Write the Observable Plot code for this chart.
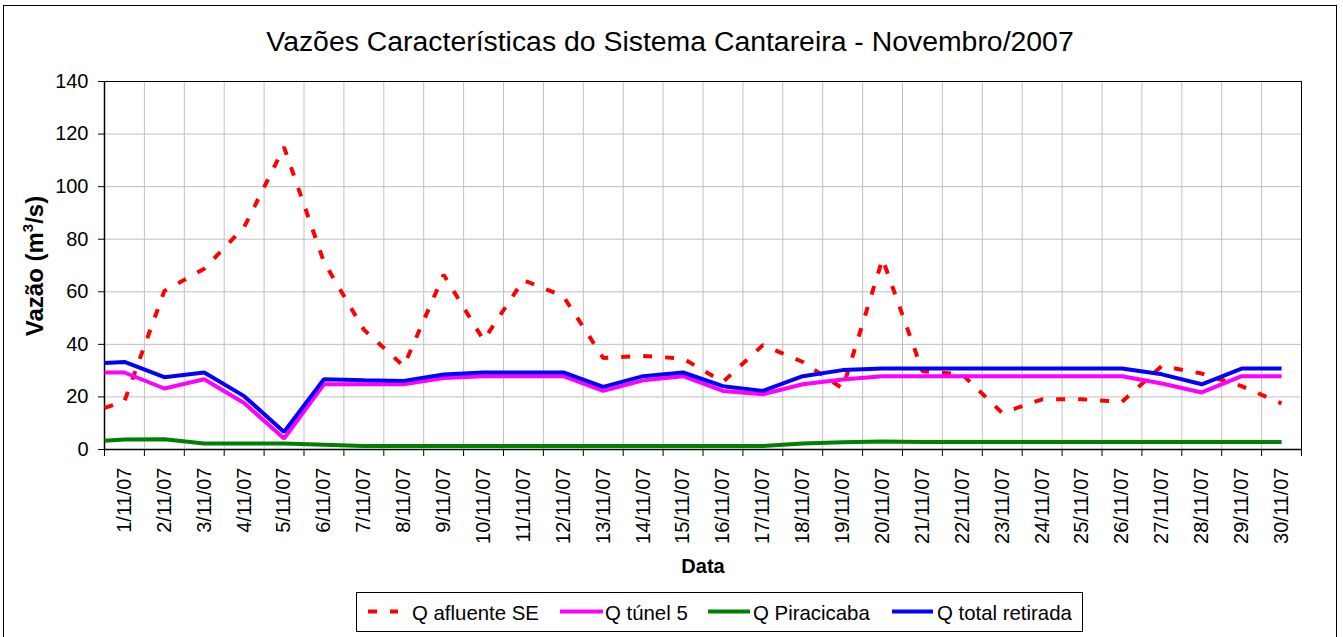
<!DOCTYPE html>
<html>
<head>
<meta charset="utf-8">
<script src="https://cdn.jsdelivr.net/npm/d3@7"></script>
<script src="https://cdn.jsdelivr.net/npm/@observablehq/plot@0.6"></script>
<style>
  html, body { margin: 0; padding: 0; background: #fff; }
  body { width: 1343px; height: 637px; overflow: hidden; position: relative; font-family: "Liberation Sans", Arial, sans-serif; }
  #border { position: absolute; left: 3px; top: 5px; width: 1334px; height: 640px; border: 1px solid #000; box-sizing: border-box; }
  #title { position: absolute; left: 0; top: 27px; width: 1340px; text-align: center; font-size: 28.4px; line-height: 28px; color: #000; white-space: nowrap; }
  #chart { position: absolute; left: 0; top: 0; }
  #legend { position: absolute; left: 356px; top: 592px; }
</style>
</head>
<body>
<div id="border"></div>
<div id="title"></div>
<div id="chart"></div>
<div id="legend"></div>
<script>
// ---- Data ----
const titleText = "Vazões Características do Sistema Cantareira - Novembro/2007";
const yLabelParts = ["Vazão (m", "3", "/s)"];
const xLabel = "Data";
const categories = ["1/11/07","2/11/07","3/11/07","4/11/07","5/11/07","6/11/07","7/11/07","8/11/07","9/11/07","10/11/07",
  "11/11/07","12/11/07","13/11/07","14/11/07","15/11/07","16/11/07","17/11/07","18/11/07","19/11/07","20/11/07",
  "21/11/07","22/11/07","23/11/07","24/11/07","25/11/07","26/11/07","27/11/07","28/11/07","29/11/07","30/11/07"];
const yTicks = [0, 20, 40, 60, 80, 100, 120, 140];
const seriesNames = ["Q afluente SE", "Q túnel 5", "Q Piracicaba", "Q total retirada"];
const seriesColors = ["#FF0000", "#FF00FF", "#008000", "#0000FF"];
// first value of each series sits on the left edge of the axis, then one value per day
const qAfluente = [15.8, 18.4, 60.3, 68.8, 84.6, 115, 71.3, 45.6, 31.7, 66.5, 41.6, 64.4, 58.3, 34.8, 35.6, 34.6, 25.7, 39.7, 33.3, 23.2, 72.5, 29.8, 28.5, 13.9, 19.1, 19.1, 18.1, 31.8, 28.9, 24.1, 17.5];
const qTunel5 = [29.3, 29.3, 23.2, 26.7, 17.7, 4.2, 24.8, 24.8, 24.8, 27.2, 27.9, 27.9, 27.9, 22.3, 26.3, 27.9, 22.3, 21.0, 24.8, 26.6, 27.9, 27.9, 27.9, 27.9, 27.9, 27.9, 27.9, 25.1, 21.7, 27.9, 27.9];
const qPiracicaba = [3.3, 3.8, 3.9, 2.3, 2.3, 2.3, 1.8, 1.3, 1.3, 1.3, 1.3, 1.3, 1.3, 1.3, 1.3, 1.3, 1.3, 1.3, 2.3, 2.8, 3.0, 2.9, 2.9, 2.9, 2.9, 2.9, 2.9, 2.9, 2.9, 2.9, 2.9];
const qTotal = [32.9, 33.3, 27.5, 29.3, 20.3, 6.7, 26.7, 26.3, 26.1, 28.5, 29.3, 29.3, 29.3, 23.8, 27.9, 29.3, 24.1, 22.3, 27.9, 30.2, 30.8, 30.8, 30.8, 30.8, 30.8, 30.8, 30.8, 28.6, 24.8, 30.8, 30.8];
const seriesValues = [qAfluente, qTunel5, qPiracicaba, qTotal];

// ---- Build table ----
const n = categories.length;
const centers = d3.range(1, n + 1);
const boundaries = d3.range(0.5, n + 1, 1);
const rows = [];
seriesValues.forEach((vals, s) => {
  vals.forEach((v, i) => rows.push({series: seriesNames[s], x: i === 0 ? 0.5 : i, y: v}));
});

const font = "Liberation Sans, Arial, sans-serif";
document.getElementById("title").textContent = titleText;

const lineMarks = seriesNames.map((name, s) =>
  Plot.line(rows.filter(d => d.series === name), {
    x: "x", y: "y",
    stroke: seriesColors[s],
    strokeWidth: 4,
    strokeDasharray: s === 0 ? "9,13" : null,
    strokeLinejoin: "miter",
    strokeLinecap: "butt"
  })
);

const chart = Plot.plot({
  width: 1343,
  height: 637,
  marginLeft: 104,
  marginRight: 42,
  marginTop: 81,
  marginBottom: 188,
  style: {background: "transparent", fontFamily: font, color: "#000"},
  x: {domain: [0.5, n + 0.5]},
  y: {domain: [0, 140]},
  marks: [
    Plot.gridY({ticks: yTicks, stroke: "#c0c0c0", strokeOpacity: 1}),
    Plot.gridX({ticks: boundaries, stroke: "#c0c0c0", strokeOpacity: 1}),
    Plot.frame({stroke: "#000"}),
    Plot.axisY({ticks: yTicks, tickSize: 6, tickPadding: 10, fontSize: 20, label: null, stroke: "#000"}),
    Plot.axisX({ticks: boundaries, tickSize: 7, tickFormat: () => "", label: null, stroke: "#000"}),
    Plot.axisX({ticks: centers, tickSize: 0, tickPadding: 18, tickRotate: -90, tickFormat: d => categories[d - 1], fontSize: 20, label: null}),
    Plot.ruleY([0], {stroke: "#000", strokeWidth: 1.5}),
    Plot.ruleX([0.5], {stroke: "#000", strokeWidth: 1.5}),
    ...lineMarks,
    Plot.text([xLabel], {frameAnchor: "bottom", dy: 123, text: d => d, fontSize: 20, fontWeight: "bold", fill: "#000"})
  ]
});
document.getElementById("chart").appendChild(chart);

// y-axis title with a true superscript
const yt = d3.select(chart).append("text")
  .attr("transform", "translate(43,266) rotate(-90)")
  .attr("text-anchor", "middle")
  .attr("font-family", font)
  .attr("font-size", 24)
  .attr("font-weight", "bold")
  .attr("fill", "#000");
yt.append("tspan").text(yLabelParts[0]);
yt.append("tspan").attr("font-size", 15).attr("dy", -10).text(yLabelParts[1]);
yt.append("tspan").attr("dy", 10).text(yLabelParts[2]);

// ---- Legend ----
const legendW = 726, legendH = 39;
const swatchX = [[12, 42], [204, 247], [352, 394], [536, 577]];
const labelX = [56, 249, 397, 581];
const lg = d3.select("#legend").append("svg")
  .attr("width", legendW + 1).attr("height", legendH + 1)
  .style("font-family", font);
lg.append("rect").attr("x", 0.5).attr("y", 0.5).attr("width", legendW).attr("height", legendH)
  .attr("fill", "#fff").attr("stroke", "#000");
seriesNames.forEach((name, s) => {
  lg.append("line")
    .attr("x1", swatchX[s][0]).attr("x2", swatchX[s][1])
    .attr("y1", 19.5).attr("y2", 19.5)
    .attr("stroke", seriesColors[s]).attr("stroke-width", 4)
    .attr("stroke-dasharray", s === 0 ? "9,13" : null);
  lg.append("text").attr("x", labelX[s]).attr("y", 27.5)
    .attr("font-size", 20.4).attr("fill", "#000").text(name);
});
</script>
</body>
</html>
